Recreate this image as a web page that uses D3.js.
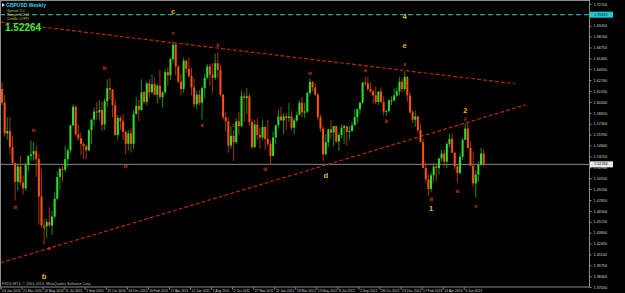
<!DOCTYPE html>
<html>
<head>
<meta charset="utf-8">
<script src="https://d3js.org/d3.v7.min.js"></script>
<style>
html, body { margin: 0; padding: 0; background: #000; overflow: hidden; }
text { font-family: "Liberation Sans", Arial, sans-serif; }
</style>
</head>
<body>
<svg width="625" height="293"></svg>
<script>
// GBPUSD weekly bars, first bar = week of 24 Jan 2010
const firstWeek = "2010-01-24";

const open = [
  // 2010
  1.6160,1.5990,1.5610,1.5640,1.5440,1.5240,1.5010,1.5200,1.5000,1.4930,1.5220,1.5330,1.5350,1.5390,1.5290,1.4830,1.4470,1.4460,1.4510,1.4470,
  1.4580,1.4800,1.5070,1.5170,1.5160,1.5290,1.5400,1.5710,1.5940,1.5600,1.5550,1.5480,1.5450,1.5400,1.5650,1.5780,1.5880,1.5870,1.5900,1.5720,
  1.6010,1.6170,1.6150,1.5960,1.5590,1.5800,1.5760,1.5630,1.5480,
  // 2011
  1.5610,1.5480,1.5850,1.5950,1.5900,1.6120,1.6000,1.6230,1.6120,1.6220,1.6090,1.6200,1.6060,1.6120,1.6370,1.6330,1.6530,1.6710,1.6440,1.6250,
  1.6160,1.6510,1.6410,1.6320,1.6180,1.5970,1.6090,1.5990,1.6170,1.6300,1.6440,1.6340,1.6300,1.6480,1.6400,1.6090,1.5810,1.5760,1.5460,1.5580,
  1.5500,1.5760,1.5700,1.6070,1.6050,1.6070,1.5750,1.5440,1.5720,1.5590,1.5560,1.5690,
  // 2012
  1.5540,1.5480,1.5330,1.5560,1.5710,1.5820,1.5770,1.5820,1.5800,1.5820,1.5680,1.5770,1.5840,1.5990,1.5870,1.5880,1.6110,1.6250,1.6180,1.6090,
  1.5810,1.5670,1.5350,1.5500,1.5660,1.5620,1.5700,1.5510,1.5590,1.5680,1.5700,1.5630,1.5640,1.5710,1.5810,1.5910,1.5990,1.6240,1.6230,1.6160,
  1.6130,1.6080,1.6000,1.6130,1.6000,1.5880,1.5890,1.6020,1.6020,1.6080,1.6130,1.6250,1.6160,
  // 2013
  1.6310,1.6080,1.5870,1.5780,1.5820,1.5650,1.5500,1.5180,1.5040,1.4920,1.5090,1.5200,1.5180,1.5300,1.5360,1.5260,1.5480,1.5540,1.5370,1.5200,
  1.5120,1.5320,1.5530,1.5670,1.5430,1.5210,1.4990,1.5100,1.5220,1.5360
];
const high = [
  1.6240,1.6090,1.5810,1.5810,1.5580,1.5250,1.5240,1.5330,1.5090,1.5250,1.5340,1.5523,1.5500,1.5460,1.5360,1.5170,1.4550,1.4550,1.4700,1.4650,
  1.4880,1.5140,1.5190,1.5210,1.5460,1.5420,1.5720,1.5970,1.5960,1.5720,1.5620,1.5500,1.5470,1.5660,1.5790,1.5930,1.6000,1.6020,1.6000,1.6040,
  1.6280,1.6298,1.6160,1.6040,1.5840,1.5830,1.5850,1.5650,1.5650,
  1.5680,1.5900,1.6060,1.6030,1.6280,1.6140,1.6250,1.6280,1.6340,1.6300,1.6230,1.6400,1.6130,1.6410,1.6430,1.6550,1.6746,1.6730,1.6450,1.6340,
  1.6550,1.6530,1.6550,1.6420,1.6290,1.6140,1.6150,1.6200,1.6350,1.6470,1.6470,1.6480,1.6600,1.6618,1.6460,1.6100,1.5880,1.5810,1.5700,1.5650,
  1.5800,1.5880,1.6140,1.6120,1.6170,1.6100,1.5790,1.5780,1.5800,1.5680,1.5780,1.5700,
  1.5780,1.5530,1.5630,1.5720,1.5900,1.5940,1.5860,1.5860,1.5990,1.5890,1.5800,1.5880,1.6020,1.6060,1.5990,1.6130,1.6290,1.6250,1.6230,1.6110,
  1.5840,1.5710,1.5600,1.5670,1.5780,1.5700,1.5700,1.5620,1.5720,1.5720,1.5700,1.5700,1.5760,1.5910,1.5920,1.6000,1.6250,1.6310,1.6310,1.6240,
  1.6150,1.6190,1.6120,1.6180,1.6070,1.5900,1.6030,1.6070,1.6170,1.6180,1.6310,1.6290,1.6380,
  1.6320,1.6130,1.5900,1.5890,1.5830,1.5730,1.5540,1.5250,1.5100,1.5130,1.5250,1.5240,1.5300,1.5410,1.5410,1.5500,1.5610,1.5610,1.5390,1.5220,
  1.5360,1.5550,1.5730,1.5750,1.5510,1.5390,1.5150,1.5260,1.5430,1.5410
];
const low = [
  1.5960,1.5570,1.5530,1.5350,1.5230,1.4781,1.4900,1.4970,1.4850,1.4900,1.5140,1.5270,1.5270,1.5070,1.4480,1.4440,1.4231,1.4310,1.4450,1.4350,
  1.4550,1.4790,1.4910,1.5010,1.5130,1.5190,1.5360,1.5700,1.5570,1.5520,1.5340,1.5290,1.5290,1.5390,1.5480,1.5700,1.5780,1.5770,1.5640,1.5650,
  1.5940,1.6030,1.5810,1.5580,1.5530,1.5650,1.5530,1.5350,1.5400,
  1.5370,1.5410,1.5840,1.5760,1.5890,1.5970,1.5960,1.6060,1.6100,1.6080,1.5980,1.6030,1.5930,1.6100,1.6200,1.6270,1.6500,1.6330,1.6230,1.6080,
  1.6110,1.6360,1.6300,1.6080,1.5930,1.5910,1.5960,1.5780,1.6050,1.6280,1.6200,1.6110,1.6270,1.6290,1.6060,1.5780,1.5630,1.5370,1.5420,1.5270,
  1.5480,1.5600,1.5690,1.5750,1.5850,1.5700,1.5420,1.5430,1.5530,1.5420,1.5530,1.5410,
  1.5450,1.5230,1.5330,1.5480,1.5670,1.5770,1.5600,1.5650,1.5750,1.5650,1.5600,1.5750,1.5830,1.5810,1.5800,1.5860,1.6080,1.6130,1.6080,1.5770,
  1.5630,1.5270,1.5340,1.5440,1.5540,1.5450,1.5490,1.5390,1.5550,1.5480,1.5460,1.5530,1.5630,1.5710,1.5730,1.5850,1.5970,1.6200,1.6130,1.6110,
  1.5980,1.5970,1.5960,1.5980,1.5830,1.5830,1.5870,1.5960,1.6000,1.6060,1.6080,1.6120,1.6130,
  1.6000,1.5860,1.5740,1.5690,1.5610,1.5500,1.5180,1.4990,1.4830,1.4880,1.5000,1.5020,1.5100,1.5260,1.5190,1.5180,1.5440,1.5370,1.5160,1.5000,
  1.5100,1.5280,1.5530,1.5420,1.5200,1.4950,1.4814,1.5010,1.5210,1.5200
];
const close = [
  1.5990,1.5610,1.5640,1.5440,1.5240,1.5010,1.5200,1.5000,1.4930,1.5220,1.5330,1.5350,1.5390,1.5290,1.4830,1.4470,1.4460,1.4510,1.4470,1.4580,
  1.4800,1.5070,1.5170,1.5160,1.5290,1.5400,1.5710,1.5940,1.5600,1.5550,1.5480,1.5450,1.5400,1.5650,1.5780,1.5880,1.5870,1.5900,1.5720,1.6010,
  1.6170,1.6150,1.5960,1.5590,1.5800,1.5760,1.5630,1.5480,1.5610,
  1.5480,1.5850,1.5950,1.5900,1.6120,1.6000,1.6230,1.6120,1.6220,1.6090,1.6200,1.6060,1.6120,1.6370,1.6330,1.6530,1.6710,1.6440,1.6250,1.6160,
  1.6510,1.6410,1.6320,1.6180,1.5970,1.6090,1.5990,1.6170,1.6300,1.6440,1.6340,1.6300,1.6480,1.6400,1.6090,1.5810,1.5760,1.5460,1.5580,1.5500,
  1.5760,1.5700,1.6070,1.6050,1.6070,1.5750,1.5440,1.5720,1.5590,1.5560,1.5690,1.5540,
  1.5480,1.5330,1.5560,1.5710,1.5820,1.5770,1.5820,1.5800,1.5820,1.5680,1.5770,1.5840,1.5990,1.5870,1.5880,1.6110,1.6250,1.6180,1.6090,1.5810,
  1.5670,1.5350,1.5500,1.5660,1.5620,1.5700,1.5510,1.5590,1.5680,1.5700,1.5630,1.5640,1.5710,1.5810,1.5910,1.5990,1.6240,1.6230,1.6160,1.6130,
  1.6080,1.6000,1.6130,1.6000,1.5880,1.5890,1.6020,1.6020,1.6080,1.6130,1.6250,1.6160,1.6310,
  1.6080,1.5870,1.5780,1.5820,1.5650,1.5500,1.5180,1.5040,1.4920,1.5090,1.5200,1.5180,1.5300,1.5360,1.5260,1.5480,1.5540,1.5370,1.5200,1.5120,
  1.5320,1.5530,1.5670,1.5430,1.5210,1.4990,1.5100,1.5220,1.5360,1.52264
];

const dateTickDays = ["2010-01-24","2010-03-21","2010-05-16","2010-07-11","2010-09-05","2010-10-31","2010-12-26","2011-02-20",
  "2011-04-17","2011-06-12","2011-08-07","2011-10-02","2011-11-27","2012-01-22","2012-03-18","2012-05-13","2012-07-08",
  "2012-09-02","2012-10-28","2012-12-23","2013-02-17","2013-04-14","2013-06-09"];
const dateTickLabels = ["24 Jan 2010","21 Mar 2010","16 May 2010","11 Jul 2010","5 Sep 2010","31 Oct 2010","26 Dec 2010","20 Feb 2011",
  "17 Apr 2011","12 Jun 2011","7 Aug 2011","2 Oct 2011","27 Nov 2011","22 Jan 2012","18 Mar 2012","13 May 2012","8 Jul 2012",
  "2 Sep 2012","28 Oct 2012","23 Dec 2012","17 Feb 2013","14 Apr 2013","9 Jun 2013"];

const priceTicks = [1.72150,1.70800,1.69450,1.68100,1.66750,1.65400,1.64050,1.62700,1.61350,1.60000,1.58650,1.57300,1.55950,
  1.54600,1.53250,1.51900,1.50550,1.49200,1.47850,1.46500,1.45150,1.43800,1.42450,1.41100,1.39750,1.38400,1.37050];

const lastPrice = 1.52264;
const alertPrice = 1.70815;

// trend lines: [date, price]
const upperLine = [["2010-01-20", 1.6990], ["2013-10-20", 1.6225]];
const lowerLine = [["2010-01-20", 1.4005], ["2013-11-17", 1.5964]];

// wave labels: [text, week, price]
const waveMajor = [
  ["c", "2011-04-24", 1.7118], ["4", "2012-12-30", 1.7056], ["e", "2012-12-30", 1.6696],
  ["d", "2012-06-03", 1.5084], ["2", "2013-06-09", 1.5890], ["1", "2013-03-10", 1.4674],
  ["b", "2010-05-16", 1.3830]
];
const waveMinor = [
  ["iii", "2010-02-28", 1.4690], ["iv", "2010-04-18", 1.5640], ["v", "2010-05-16", 1.4440], ["a", "2010-05-30", 1.4180],
  ["iii", "2010-10-24", 1.6410], ["iv", "2010-12-19", 1.5200], ["v", "2011-04-24", 1.6840],
  ["a", "2011-07-10", 1.5700], ["b", "2011-08-21", 1.6700], ["c", "2011-10-02", 1.5700],
  ["iii", "2011-12-25", 1.5160], ["iv", "2012-04-22", 1.6350], ["a", "2012-09-16", 1.6390],
  ["b", "2012-11-11", 1.5750], ["v", "2012-12-30", 1.6460], ["i", "2013-01-06", 1.6190],
  ["iii", "2013-03-10", 1.4790], ["ii", "2013-06-09", 1.5780], ["iv", "2013-05-19", 1.4890],
  ["v", "2013-07-07", 1.4700]
];

const svg = d3.select("svg");
const W = 589, H = 287;
const parse = d3.timeParse("%Y-%m-%d");
const start = parse(firstWeek);
const dates = close.map((c, i) => d3.timeWeek.offset(start, i));

const x = d3.scaleTime()
  .domain([parse("2010-01-24"), parse("2013-06-09")])
  .range([2, 2 + 176 * 2.632]);
const y = d3.scaleLinear()
  .domain([1.37050, 1.72150])
  .range([287.1, 3.9]);

svg.append("rect").attr("width", 625).attr("height", 293).attr("fill", "#000");

svg.append("clipPath").attr("id", "plot")
  .append("rect").attr("x", 0).attr("y", 0).attr("width", W).attr("height", H);

const plot = svg.append("g").attr("clip-path", "url(#plot)");

// horizontal lines
plot.append("line")
  .attr("x1", 0).attr("x2", W)
  .attr("y1", y(lastPrice)).attr("y2", y(lastPrice))
  .attr("stroke", "#8a8a8a").attr("stroke-width", 1);
plot.append("line")
  .attr("x1", 0).attr("x2", W)
  .attr("y1", y(alertPrice)).attr("y2", y(alertPrice))
  .attr("stroke", "#1fa3a8").attr("stroke-width", 1.2)
  .attr("stroke-dasharray", "5,3");

// trend lines
const trend = d3.line().x(d => x(parse(d[0]))).y(d => y(d[1]));
[upperLine, lowerLine].forEach(function(l) {
  plot.append("path")
    .attr("d", trend(l))
    .attr("fill", "none")
    .attr("stroke", "#b02a08")
    .attr("stroke-width", 1.2)
    .attr("stroke-dasharray", "4,2");
});

// candles
const bars = plot.append("g").selectAll("g")
  .data(close.map((c, i) => ({d: dates[i], o: open[i], h: high[i], l: low[i], c: c})))
  .enter().append("g");

bars.append("line")
  .attr("x1", d => x(d.d)).attr("x2", d => x(d.d))
  .attr("y1", d => y(d.h)).attr("y2", d => y(d.l))
  .attr("stroke", d => d.c >= d.o ? "#1c9c1c" : "#b83a06")
  .attr("stroke-width", 0.9);

bars.append("rect")
  .attr("x", d => x(d.d) - 1)
  .attr("width", 2)
  .attr("y", d => y(Math.max(d.o, d.c)))
  .attr("height", d => Math.max(1, Math.abs(y(d.o) - y(d.c))))
  .attr("fill", d => d.c >= d.o ? "#2ee02e" : "#ff5208");

// wave labels
plot.append("g").selectAll("text")
  .data(waveMinor).enter().append("text")
  .attr("x", d => x(parse(d[1])))
  .attr("y", d => y(d[2]))
  .attr("text-anchor", "middle")
  .attr("dominant-baseline", "middle")
  .attr("fill", "#e83a0a")
  .attr("font-size", 4.5)
  .attr("font-weight", "bold")
  .text(d => d[0]);

plot.append("g").selectAll("text")
  .data(waveMajor).enter().append("text")
  .attr("x", d => x(parse(d[1])))
  .attr("y", d => y(d[2]))
  .attr("text-anchor", "middle")
  .attr("dominant-baseline", "middle")
  .attr("fill", "#f2b800")
  .attr("font-size", 7.5)
  .attr("font-weight", "bold")
  .text(d => d[0]);

// frame
svg.append("rect")
  .attr("x", 0.5).attr("y", 0.5).attr("width", W).attr("height", H - 0.5)
  .attr("fill", "none").attr("stroke", "#8c8c8c").attr("stroke-width", 1);

// price axis
const yAxis = svg.append("g")
  .attr("transform", "translate(" + (W + 0.5) + ",0)")
  .call(d3.axisRight(y).tickValues(priceTicks).tickSize(2).tickPadding(2).tickFormat(d3.format(".5f")));
yAxis.select(".domain").remove();
yAxis.selectAll("line").attr("stroke", "#9a9a9a");
yAxis.selectAll("text").attr("fill", "#cfcfcf").attr("font-size", 3.8);

// price badges
function badge(price, bg, fg) {
  const g = svg.append("g").attr("transform", "translate(" + (W + 1) + "," + y(price) + ")");
  g.append("rect").attr("x", 0).attr("y", -3).attr("width", 23).attr("height", 6).attr("fill", bg);
  g.append("text").attr("x", 4).attr("y", 0).attr("dominant-baseline", "middle")
    .attr("fill", fg).attr("font-size", 3.8).text(d3.format(".5f")(price));
}
badge(alertPrice, "#1fc8d0", "#002020");
badge(lastPrice, "#e8e8e8", "#000");

// time axis
const xAxis = svg.append("g")
  .attr("transform", "translate(0," + (H + 0.5) + ")")
  .call(d3.axisBottom(x).tickValues(dateTickDays.map(parse)).tickSize(2).tickFormat((d, i) => dateTickLabels[i]));
xAxis.select(".domain").remove();
xAxis.selectAll("line").attr("stroke", "#9a9a9a").attr("transform", "translate(-1.5,0)");
xAxis.selectAll("text")
  .attr("text-anchor", "start")
  .attr("x", -0.5).attr("y", 2.5)
  .attr("dy", "0.71em")
  .attr("fill", "#cfcfcf")
  .attr("font-size", 3.4);

// header texts
svg.append("path").attr("d", "M2,3 L5,5 L2,7 Z").attr("fill", "#dddddd");
svg.append("text").attr("x", 6).attr("y", 7).attr("fill", "#2fd4e8")
  .attr("font-size", 5).attr("font-weight", "bold").text("GBPUSD Weekly");
const info = ["Spread: 2.0", "Range: 102.34", "Candle: (OFF)"];
svg.append("g").selectAll("text").data(info).enter().append("text")
  .attr("x", 7).attr("y", (d, i) => 11.5 + i * 4.2)
  .attr("fill", "#c8c43a").attr("font-size", 3.4).text(d => d);
svg.append("text").attr("x", 5).attr("y", 30.5).attr("fill", "#3be63b")
  .attr("font-size", 10).attr("font-weight", "bold").text(d3.format(".5f")(lastPrice));

svg.append("text").attr("x", 2).attr("y", 284.8).attr("fill", "#bdbdbd")
  .attr("font-size", 3.7).text("FXDD MT4, \u00a9 2001-2013, MetaQuotes Software Corp.");
</script>
</body>
</html>
